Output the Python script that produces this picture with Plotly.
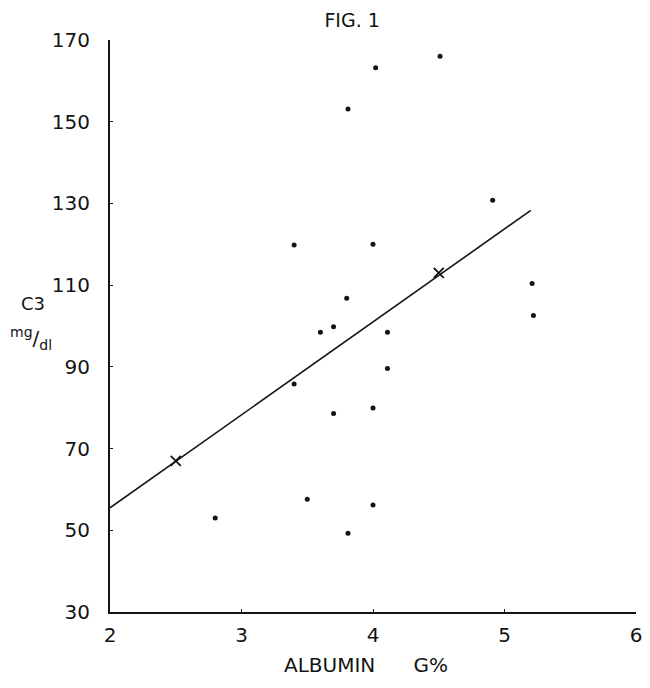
"""
Fig. 1: C3 (mg/dl) frente a albúmina (G%), con recta de regresión.
"""

import plotly.graph_objects as go

# puntos
albumin = [4.51, 4.02, 3.81, 4.91, 3.40, 4.00, 5.21, 3.80, 5.22, 3.60,
           3.70, 4.11, 4.11, 3.40, 3.70, 4.00, 3.50, 4.00, 2.80, 3.81]
c3 = [166.0, 163.2, 153.1, 130.8, 119.8, 120.0, 110.4, 106.8, 102.6, 98.5,
      99.8, 98.5, 89.6, 85.8, 78.6, 79.9, 57.6, 56.2, 53.0, 49.3]

# recta de regresión y sus dos puntos marcados
line_x = [2.0, 5.2]
line_y = [55.5, 128.3]
cross_x = [2.5, 4.5]
cross_y = [67.0, 113.0]

x_ticks = [2, 3, 4, 5, 6]
y_ticks = [30, 50, 70, 90, 110, 130, 150, 170]

FONT = "DejaVu Sans"
INK = "#141414"

fig = go.Figure()

fig.add_trace(go.Scatter(
    x=line_x, y=line_y, mode="lines",
    line=dict(color=INK, width=1.6),
    hoverinfo="skip",
))
fig.add_trace(go.Scatter(
    x=cross_x, y=cross_y, mode="markers",
    marker=dict(symbol="x-thin-open", size=10, color=INK,
                line=dict(color=INK, width=1.8)),
))
fig.add_trace(go.Scatter(
    x=albumin, y=c3, mode="markers",
    marker=dict(color=INK, size=5),
))

# la página deja 8px de margen en el body: se descuenta aquí
fig.update_layout(
    width=642,
    height=680,
    paper_bgcolor="white",
    plot_bgcolor="white",
    showlegend=False,
    margin=dict(l=102, r=14, t=32, b=76, autoexpand=False),
    font=dict(family=FONT, color=INK, size=20),
    title=dict(text="FIG. 1", x=0.536, xanchor="center", y=0.982, yanchor="middle",
               font=dict(family=FONT, size=19, color=INK)),
)

fig.update_xaxes(
    range=[2, 6],
    tickvals=x_ticks,
    ticks="inside", ticklen=3, tickcolor=INK,
    showline=True, linecolor=INK, linewidth=2,
    showgrid=False, zeroline=False, automargin=False,
    ticklabelstandoff=4,
    tickfont=dict(size=20),
)
fig.update_yaxes(
    range=[30, 170],
    tickvals=y_ticks,
    ticks="inside", ticklen=3, tickcolor=INK,
    showline=True, linecolor=INK, linewidth=2,
    showgrid=False, zeroline=False, automargin=False,
    ticklabelstandoff=14,
    tickfont=dict(size=20),
)

# título del eje x
fig.add_annotation(text="ALBUMIN      G%", xref="paper", yref="paper",
                   x=0.487, y=-0.093, showarrow=False, font=dict(size=20),
                   xanchor="center", yanchor="middle")

# etiqueta del eje y en dos líneas, como en el original
fig.add_annotation(text="C3", xref="paper", yref="paper", x=-0.146, y=0.540,
                   showarrow=False, font=dict(size=18), xanchor="center",
                   yanchor="middle")
fig.add_annotation(text="<sup>mg</sup>/<sub>dl</sub>", xref="paper", yref="paper",
                   x=-0.150, y=0.479, showarrow=False, font=dict(size=20),
                   xanchor="center", yanchor="middle")

fig.write_html("out.html")
